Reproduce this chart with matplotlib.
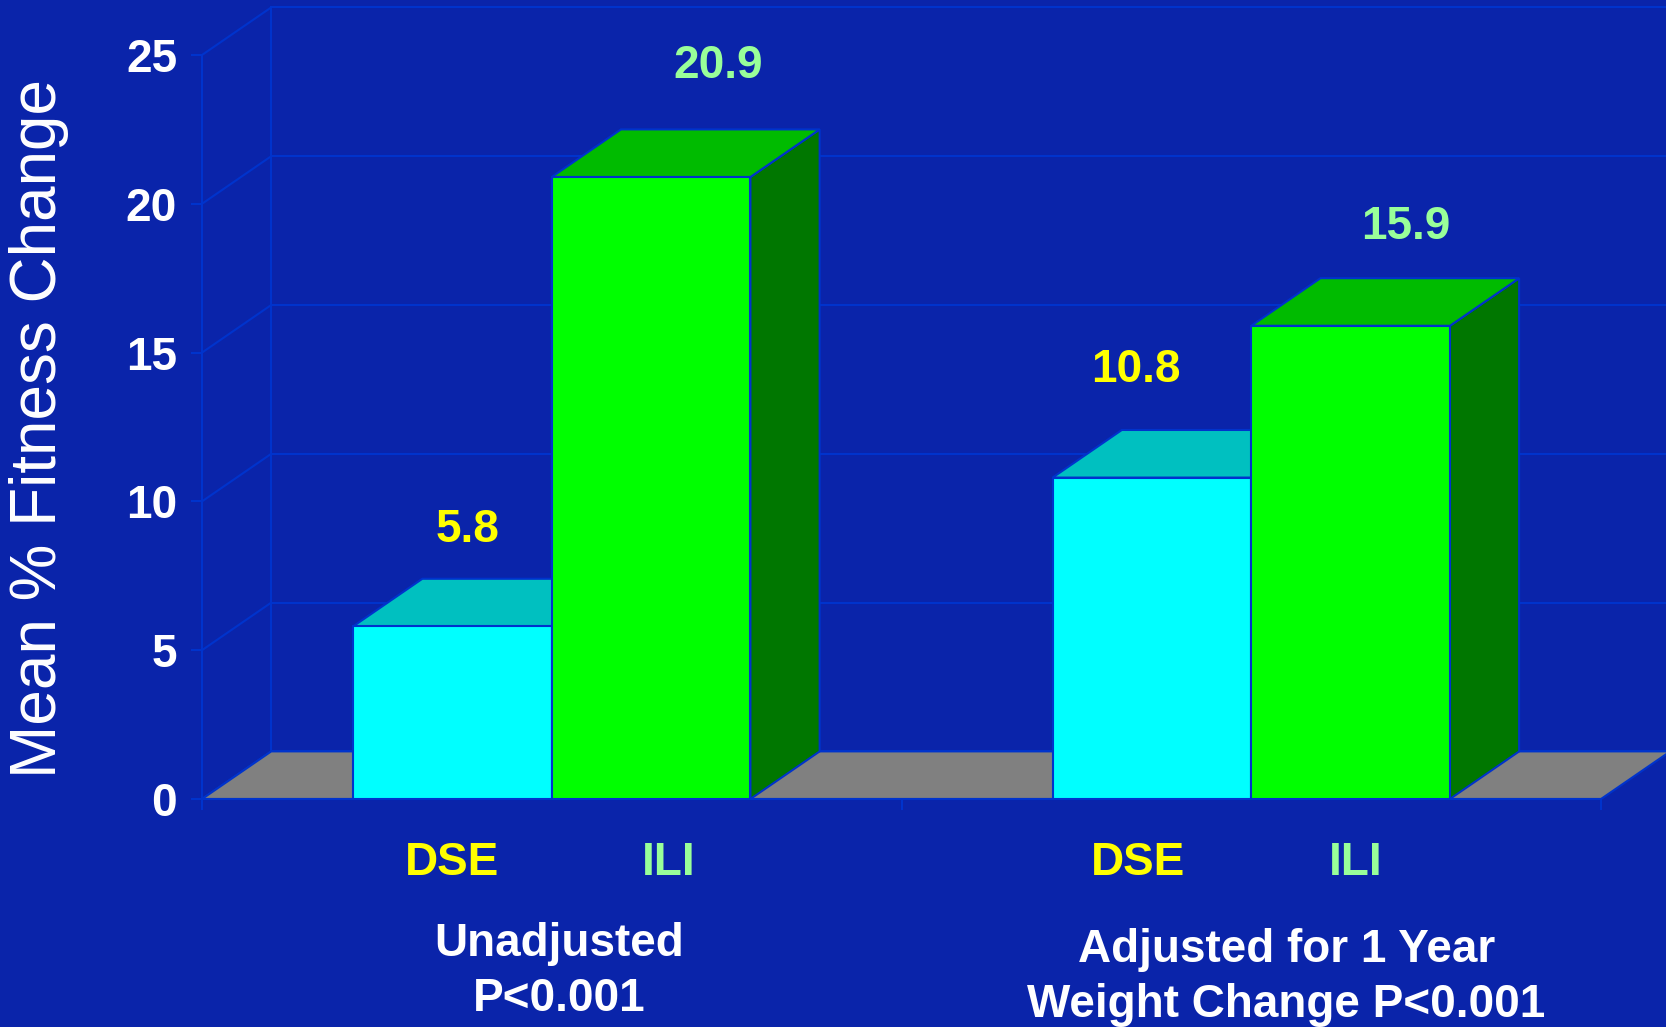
import numpy as np
import matplotlib.pyplot as plt
from matplotlib.patches import Polygon
from matplotlib.transforms import blended_transform_factory

plt.rcParams['font.family'] = ['Liberation Sans', 'DejaVu Sans']

# data
groups = ['Unadjusted\nP<0.001', 'Adjusted for 1 Year\nWeight Change P<0.001']
series = ['DSE', 'ILI']
dse_vals = [5.8, 10.8]
ili_vals = [20.9, 15.9]
yticks = [0, 5, 10, 15, 20, 25]

# styling
bg = '#0A24AA'
edge = '#0033CC'
front_cols = {'DSE': '#00FFFF', 'ILI': '#00FF00'}
top_cols = {'DSE': '#00C0C0', 'ILI': '#00BB00'}
side_cols = {'DSE': '#008A8A', 'ILI': '#007700'}
text_cols = {'DSE': '#FFFF00', 'ILI': '#99FF99'}
floor_col = '#808080'

dx, dy = 0.099, 1.6      # fake 3D depth (x in category units, y in value units)
bar_w = 0.284
group_label_x = [0.51, 1.55]
group_label_y = [-0.232, -0.24]
# per-bar nudges for the value labels and category labels (order: DSE1, ILI1, DSE2, ILI2)
val_dx = [0.021, 0.096, -0.023, 0.079]
val_dy = [1.64, 2.14, 2.0, 1.71]
cat_dx = [0.0, 0.025, -0.02, 0.008]

fig = plt.figure(figsize=(16.66, 10.27), dpi=100, facecolor=bg)
ax = fig.add_axes([202 / 1666, 228 / 1027, 1399 / 1666, 744 / 1027])
ax.set_facecolor(bg)
ax.set_xlim(0, 2)
ax.set_ylim(0, 25)

# back wall + left wall grid
for k in yticks:
    ax.plot([0, dx], [k, k + dy], color=edge, lw=1.5, zorder=0.5, clip_on=False)
    ax.plot([dx, 2 + dx + 0.1], [k + dy, k + dy], color=edge, lw=1.5, zorder=0.5, clip_on=False)
ax.plot([dx, dx], [dy, 25 + dy], color=edge, lw=1.5, zorder=0.5, clip_on=False)

# floor
ax.add_patch(Polygon([(0, 0), (2, 0), (2 + dx, dy), (dx, dy)], closed=True,
                     facecolor=floor_col, edgecolor=edge, lw=1.5, zorder=1, clip_on=False))

# bars
centers = []
z = 2
i = 0
for gi in range(len(groups)):
    c = gi + 0.5
    for name, vals, x0 in [('DSE', dse_vals, c - bar_w), ('ILI', ili_vals, c)]:
        h = vals[gi]
        side = Polygon([(x0 + bar_w, 0), (x0 + bar_w + dx, dy), (x0 + bar_w + dx, h + dy), (x0 + bar_w, h)],
                       closed=True, facecolor=side_cols[name], edgecolor=edge, lw=1.5, zorder=z, clip_on=False)
        top = Polygon([(x0, h), (x0 + bar_w, h), (x0 + bar_w + dx, h + dy), (x0 + dx, h + dy)],
                      closed=True, facecolor=top_cols[name], edgecolor=edge, lw=1.5, zorder=z, clip_on=False)
        ax.add_patch(side)
        ax.add_patch(top)
        ax.bar(x0, h, width=bar_w, align='edge', color=front_cols[name], edgecolor=edge,
               lw=1.5, zorder=z + 1)
        ax.text(x0 + bar_w / 2 + val_dx[i], h + val_dy[i] + dy, f'{h:.1f}', color=text_cols[name],
                fontsize=33, fontweight='bold', ha='center', va='center', clip_on=False, zorder=10)
        centers.append((x0 + bar_w / 2 + cat_dx[i], name))
        z += 2
        i += 1

# axes / ticks
for s in ['top', 'right']:
    ax.spines[s].set_visible(False)
for s in ['left', 'bottom']:
    ax.spines[s].set_color(edge)
    ax.spines[s].set_linewidth(1.5)
    ax.spines[s].set_zorder(1.5)

ax.set_yticks(yticks)
ax.set_yticklabels([str(t) for t in yticks], fontweight='bold')
ax.tick_params(axis='y', length=8, width=1.5, color=edge, pad=10, labelsize=33, labelcolor='white')

ax.set_xticks([c for c, _ in centers])
ax.set_xticklabels([n for _, n in centers], fontweight='bold')
ax.set_xticks([0, 1, 2], minor=True)
ax.tick_params(axis='x', which='major', length=0, pad=30, labelsize=33)
ax.tick_params(axis='x', which='minor', length=8, width=1.5, color=edge)
for lab, (_, n) in zip(ax.get_xticklabels(), centers):
    lab.set_color(text_cols[n])

tr = blended_transform_factory(ax.transData, ax.transAxes)
for gx, gy, g in zip(group_label_x, group_label_y, groups):
    ax.text(gx, gy, g, transform=tr, color='white', fontsize=33, fontweight='bold',
            ha='center', va='center', linespacing=1.32)

fig.text(39 / 1666, 1 - 428 / 1027, 'Mean % Fitness Change', rotation=90, color='white',
         fontsize=46, ha='center', va='center')

fig.savefig('out.png', dpi=100, facecolor=bg)
